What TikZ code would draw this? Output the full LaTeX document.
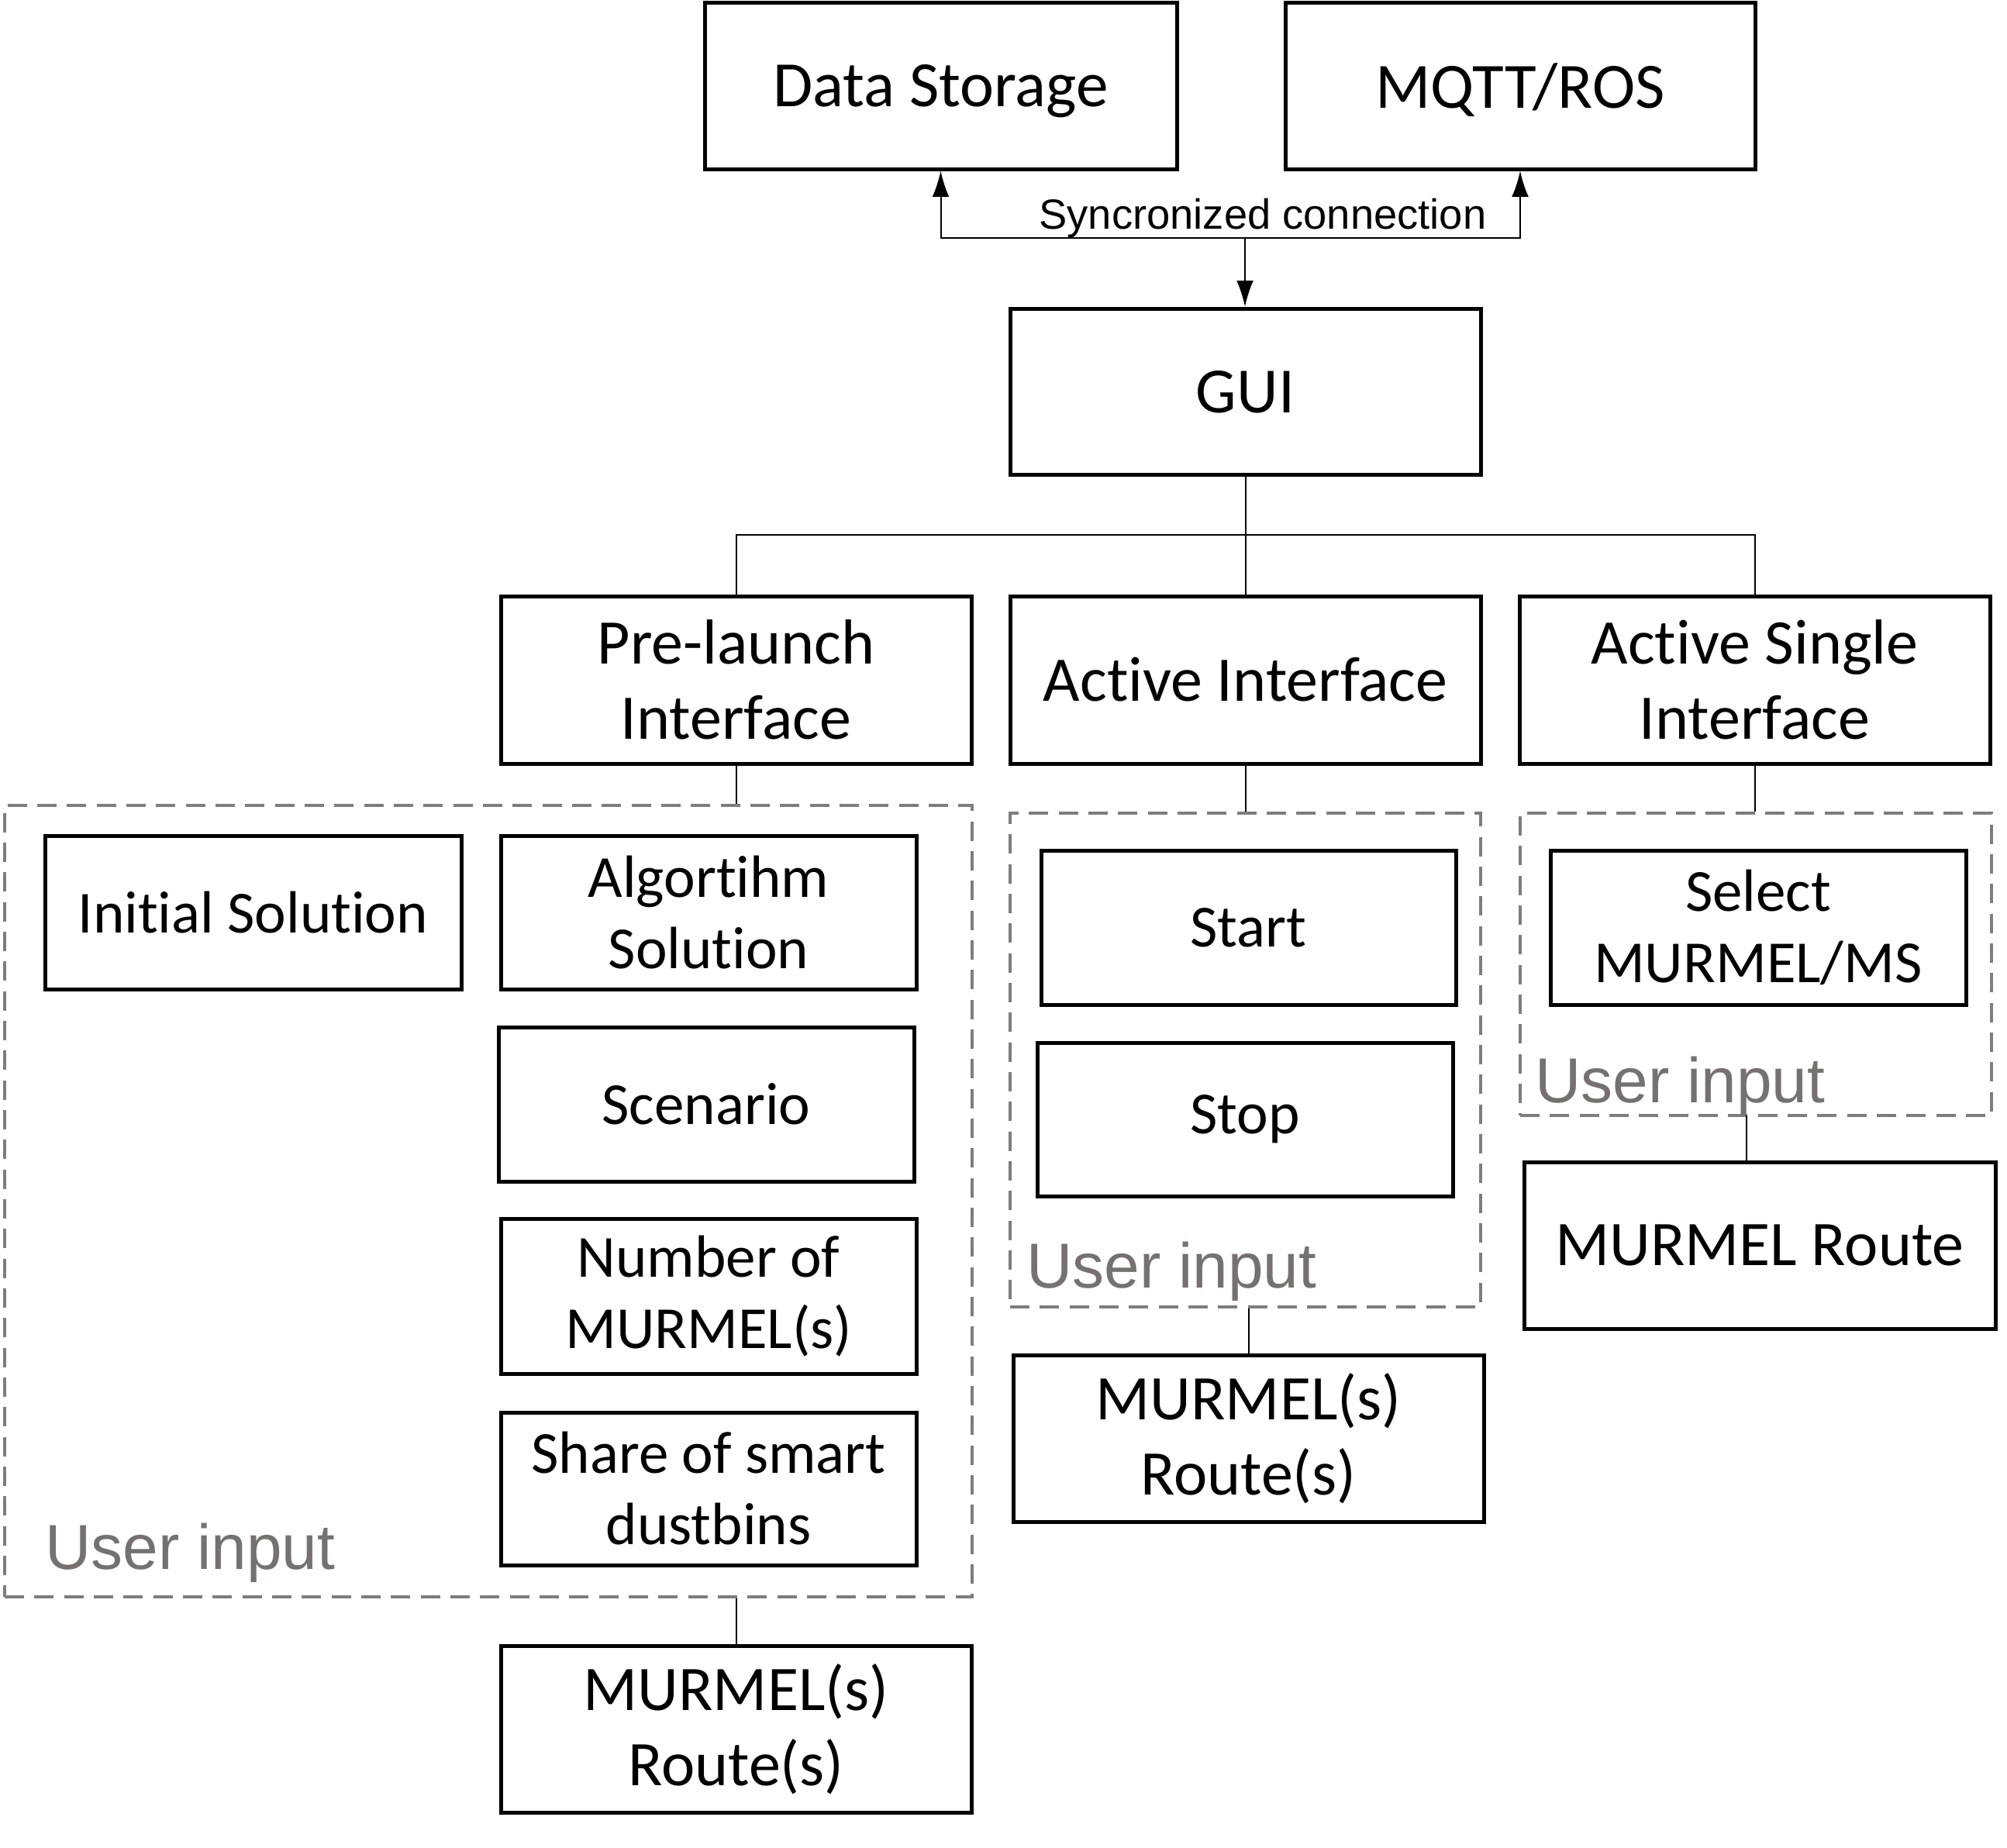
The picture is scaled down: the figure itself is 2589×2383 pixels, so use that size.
\documentclass[tikz,border=0pt]{standalone}
\usepackage{fontspec}
\setmainfont{Carlito}[Ligatures={NoCommon}]
\newfontfamily\arialf{Liberation Sans}
\usetikzlibrary{arrows.meta}
\definecolor{uigray}{RGB}{118,113,113}
\definecolor{dashgray}{RGB}{125,125,125}
\newcommand\mkbox[7]{\node[#1,minimum width={(#5-#3)*0.3pt},minimum height={(#6-#4)*0.3pt}] (#2) at ({(#3+#5)/2},{(#4+#6)/2}) {#7};}
\begin{document}
\begin{tikzpicture}[x=0.3pt,y=-0.3pt,
 box/.style={draw,line width=1.5pt,inner sep=0pt,align=center},
 big/.style={box,font=\fontsize{25}{29}\selectfont,text depth=0pt},
 mid/.style={box,font=\fontsize{24.6}{29.1}\selectfont},
 small/.style={box,font=\fontsize{23.1}{27.6}\selectfont},
 grp/.style={draw=dashgray,line width=1.2pt,dash pattern=on 7.5pt off 4pt,inner sep=0pt},
 conn/.style={line width=0.6pt},
 arr/.style={conn,-{Latex[length=10pt,width=6.5pt]}},
 ui/.style={text=uigray,font=\arialf\fontsize{24.6}{29}\selectfont,anchor=base west,inner sep=0pt}]
\useasboundingbox (0,0) rectangle (2589,2383);

% dashed groups
\mkbox{grp}{g1}{6}{1039}{1254}{2060}{}
\mkbox{grp}{g2}{1303}{1049}{1910}{1686}{}
\mkbox{grp}{g3}{1961}{1049}{2569}{1439}{}

% top
\mkbox{big}{ds}{909}{3}{1518}{218}{Data Storage}
\mkbox{big}{mq}{1658}{3}{2264}{218}{MQTT/ROS}
\mkbox{big}{gui}{1303}{398}{1910}{612}{GUI}

% interfaces
\mkbox{mid}{pl}{646}{769}{1253}{985}{Pre-launch\\Interface}
\mkbox{mid}{ai}{1303}{769}{1910}{985}{Active Interface}
\mkbox{mid}{asi}{1960}{769}{2567}{985}{Active Single\\Interface}

% inner boxes
\mkbox{small}{is}{58}{1078}{595}{1276}{Initial Solution}
\mkbox{small}{as}{646}{1078}{1182}{1276}{Algortihm\\Solution}
\mkbox{small}{sc}{643}{1325}{1179}{1524}{Scenario}
\mkbox{small}{nm}{646}{1572}{1182}{1772}{Number of\\MURMEL(s)}
\mkbox{small}{sh}{646}{1822}{1182}{2019}{Share of smart\\dustbins}
\mkbox{mid}{r1}{646}{2123}{1253}{2338}{MURMEL(s)\\Route(s)}

\mkbox{small}{st}{1343}{1097}{1878}{1296}{Start}
\mkbox{small}{sp}{1338}{1345}{1874}{1543}{Stop}
\mkbox{mid}{r2}{1307}{1748}{1914}{1963}{MURMEL(s)\\Route(s)}

\mkbox{small}{sel}{2000}{1097}{2536}{1296}{Select\\MURMEL/MS}
\mkbox{mid}{mr}{1966}{1499}{2574}{1714}{MURMEL Route}

% user input labels
\node[ui] (u1) at (58,2024) {User input};
\node[ui] (u2) at (1324,1661) {User input};
\node[ui] (u3) at (1980,1422) {User input};

% synchronized connection
\coordinate (j) at (1606,307);
\draw[arr] (j) -| (ds.south);
\draw[arr] (j) -| (mq.south);
\draw[arr] (j) -- (j |- gui.north);
\node[font=\arialf\fontsize{16.3}{18}\selectfont,anchor=base,inner sep=0pt] (sl) at (1629,295) {Syncronized connection};

% tree
\coordinate (t) at (1606,690);
\draw[conn] (gui.south) -- (ai.north);
\draw[conn] (pl.north) |- (t) -| (asi.north);

\draw[conn] (pl.south) -- (pl.south |- g1.north);
\draw[conn] (ai.south) -- (ai.south |- g2.north);
\draw[conn] (asi.south) -- (asi.south |- g3.north);
\draw[conn] (r1.north |- g1.south) -- (r1.north);
\draw[conn] (r2.north |- g2.south) -- (r2.north);
\coordinate (c3) at (2253,1439);
\draw[conn] (c3) -- (c3 |- mr.north);
\end{tikzpicture}
\end{document}
